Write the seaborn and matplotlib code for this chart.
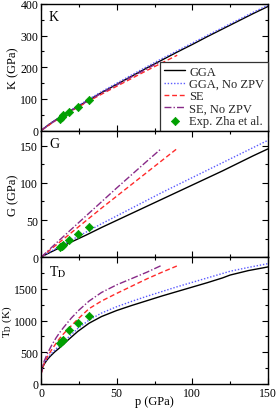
import matplotlib
matplotlib.use("Agg")
import matplotlib.pyplot as plt
import seaborn as sns
import pandas as pd
from matplotlib.ticker import MultipleLocator

# ---------------- data ----------------
# Bulk modulus K (GPa)
p_K_gga = [0, 5, 10, 20, 30, 40, 50, 60, 70, 80, 90, 100, 110, 120, 130, 140, 150]
K_gga = [0, 18.5, 34.5, 64, 92, 120, 146, 172, 198, 223, 248, 272, 297, 321, 345, 369, 392]
K_gga_nozpv = [0, 19, 35.5, 66, 94.5, 123, 149.5, 176, 202, 227.5, 252, 276.5, 301, 325, 349, 373, 396]
p_K_se = [0, 10, 20, 30, 40, 50, 60, 70, 80, 90]
K_se = [0, 33, 62, 89, 115, 140, 165, 190, 214, 238]
p_K_se_nozpv = [0, 10, 20, 30, 40, 50, 60, 70, 79]
K_se_nozpv = [0, 34, 63.5, 91, 118, 144, 170, 195, 218]

# Shear modulus G (GPa)
p_G_gga = [0, 10, 20, 30, 40, 50, 60, 70, 80, 90, 100, 110, 120, 130, 140, 150]
G_gga = [0.5, 10.5, 20.5, 30, 40, 49.5, 59, 68.5, 78, 87.5, 97, 106.5, 116, 126, 136, 145.5]
G_gga_nozpv = [0.5, 12, 23, 34, 45, 55.5, 66, 76.5, 87, 97, 107, 117, 127, 137, 147, 157]
p_G_se = [0, 10, 20, 30, 40, 50, 60, 70, 80, 90]
G_se = [0, 16.5, 33, 49.5, 66, 82, 98, 114, 130, 146]
p_G_se_nozpv = [0, 10, 20, 30, 40, 50, 60, 70, 79]
G_se_nozpv = [0, 19, 37.5, 56, 74.5, 93, 111, 129, 145]

# Debye temperature T_D (K)
p_T_gga = [0, 1, 2, 4, 6, 9, 12.5, 15, 18.6, 24.3, 31.8, 40, 50, 60, 70, 80, 90, 100, 110, 120, 125, 137, 150]
T_gga = [170, 255, 310, 380, 435, 505, 575, 630, 710, 830, 960, 1065, 1160, 1240, 1315, 1390, 1460, 1530, 1600, 1675, 1720, 1790, 1848]
T_gga_nozpv = [180, 265, 325, 400, 460, 535, 610, 665, 750, 875, 1010, 1120, 1220, 1305, 1385, 1460, 1535, 1605, 1675, 1745, 1780, 1840, 1900]
p_T_se = [0, 1, 2, 4, 7, 10, 12.5, 15, 20, 25, 31.8, 40, 50, 60, 70, 80, 90]
T_se = [150, 250, 320, 420, 540, 645, 725, 795, 920, 1040, 1190, 1310, 1430, 1545, 1660, 1765, 1865]
p_T_se_nozpv = [0, 1, 2, 4, 7, 10, 12.5, 15, 20, 25, 31.8, 40, 50, 60, 70, 79]
T_se_nozpv = [150, 270, 355, 470, 610, 730, 818, 895, 1040, 1165, 1310, 1445, 1565, 1665, 1765, 1865]

# Experiment (Zha et al.)
p_exp = [12.5, 13.8, 14.7, 18.6, 24.3, 31.8]
K_exp = [38, 44, 48, 59, 75, 96]
G_exp = [14, 15.3, 16.1, 23.8, 31.9, 40.9]
T_exp = [648, 683, 699, 849, 963, 1076]

labels = ["GGA", "GGA, No ZPV", "SE", "SE, No ZPV", "Exp. Zha et al."]
panel_names = ["K", "G", r"T$_\mathrm{D}$"]
ylabels = ["K (GPa)", "G (GPa)", r"T$_\mathrm{D}$ (K)"]
xlabel = "p (GPa)"

# ---------------- style ----------------
sns.set_theme(style="ticks")
plt.rcParams['font.family'] = ['Liberation Serif', 'DejaVu Serif']
plt.rcParams['mathtext.fontset'] = 'stix'

colors = ["#000000", "#5a5aff", "#ff2a2a", "#882a88"]
dashes = ["-", (0, (1, 1.3)), (0, (3.5, 2)), (0, (5, 1.5, 1, 1.5))]
exp_color = "#00a000"

fig, axes = plt.subplots(3, 1, figsize=(2.76, 4.10), dpi=100, sharex=True)
fig.subplots_adjust(left=0.1486, right=0.971, top=0.988, bottom=0.061, hspace=0)

panels = [
    [(p_K_gga, K_gga), (p_K_gga, K_gga_nozpv), (p_K_se, K_se), (p_K_se_nozpv, K_se_nozpv), K_exp],
    [(p_G_gga, G_gga), (p_G_gga, G_gga_nozpv), (p_G_se, G_se), (p_G_se_nozpv, G_se_nozpv), G_exp],
    [(p_T_gga, T_gga), (p_T_gga, T_gga_nozpv), (p_T_se, T_se), (p_T_se_nozpv, T_se_nozpv), T_exp],
]
ylims = [(0, 400), (0, 170), (0, 2000)]
majors = [100, 50, 500]
minors = [50, 25, 250]
label_x = [-0.123, -0.123, -0.150]
label_fs = [9, 9, 8]

for i, ax in enumerate(axes):
    series = panels[i]
    for j in range(4):
        x, y = series[j]
        df = pd.DataFrame({"p": x, "v": y})
        sns.lineplot(data=df, x="p", y="v", ax=ax, color=colors[j], lw=1.0,
                     linestyle=dashes[j], label=labels[j], sort=False, legend=False)
    dfe = pd.DataFrame({"p": p_exp, "v": series[4]})
    sns.scatterplot(data=dfe, x="p", y="v", ax=ax, marker="D", s=18, color=exp_color,
                    edgecolor=exp_color, linewidth=0.5, zorder=5, label=labels[4], legend=False)
    ax.set_xlim(0, 150)
    ax.set_ylim(*ylims[i])
    ax.yaxis.set_major_locator(MultipleLocator(majors[i]))
    ax.yaxis.set_minor_locator(MultipleLocator(minors[i]))
    ax.xaxis.set_major_locator(MultipleLocator(50))
    ax.xaxis.set_minor_locator(MultipleLocator(25))
    ax.tick_params(which="both", direction="in", top=True, right=True, labelsize=8.5, pad=2,
                   width=0.8, color="black", labelcolor="black")
    ax.tick_params(which="major", length=4)
    ax.tick_params(which="minor", length=2)
    for s in ax.spines.values():
        s.set_linewidth(1.0)
        s.set_color("black")
    ax.set_ylabel(ylabels[i], fontsize=label_fs[i], color="black", va="center")
    ax.yaxis.set_label_coords(label_x[i], 0.5)
    ax.set_xlabel("")
    ax.text(0.035, 0.95, panel_names[i], transform=ax.transAxes, ha="left", va="top",
            fontsize=10, color="black")
    if i == 1:
        ax.set_yticks([0, 50, 100, 150])
    if i == 2:
        ax.set_yticks([0, 500, 1000, 1500])

axes[2].set_xlabel(xlabel, fontsize=9, color="black")
axes[2].xaxis.set_label_coords(0.5, -0.085)

leg = axes[0].legend(loc="lower right", borderaxespad=0, fontsize=9, frameon=True,
                     fancybox=False, framealpha=1, edgecolor="#333333",
                     handlelength=1.7, handletextpad=0.3, labelspacing=0.02,
                     borderpad=0.3, markerscale=1.0)
leg.get_frame().set_linewidth(0.9)

fig.savefig("out.png", dpi=100)
